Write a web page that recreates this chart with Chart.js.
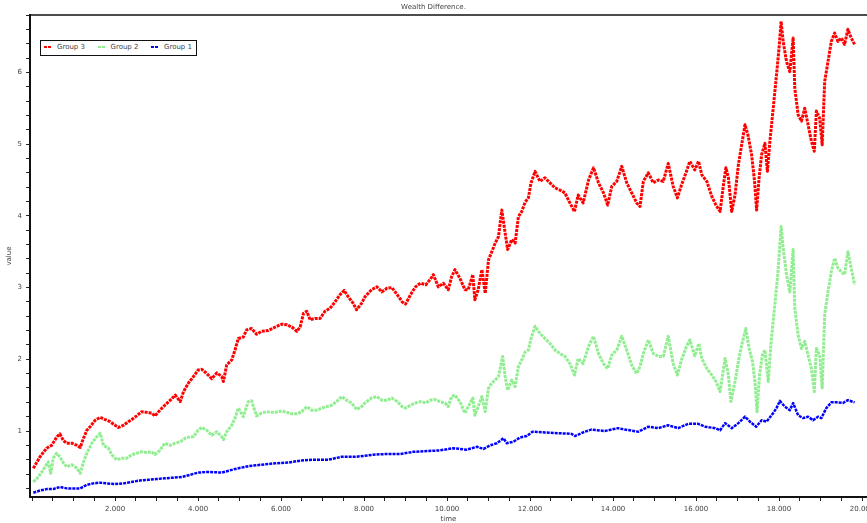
<!DOCTYPE html>
<html>
<head>
<meta charset="utf-8">
<script src="https://cdn.jsdelivr.net/npm/chart.js@4/dist/chart.umd.min.js"></script>
<style>
  html, body { margin: 0; padding: 0; background: #fff; }
  #wrap { position: relative; width: 867px; height: 523px; }
  #legend {
    position: absolute; left: 40px; top: 40px; width: 157px; height: 16px;
    box-sizing: border-box; border: 1.5px solid #111; background: #fff;
    font: 7px "DejaVu Sans", sans-serif; color: #444;
  }
  #legend .item { position: absolute; top: 0; height: 13px; line-height: 13px; white-space: nowrap; }
  #legend .swatch { display: inline-block; width: 7px; height: 2px; vertical-align: middle; margin-right: 6px; }
</style>
</head>
<body>
<div id="wrap">
  <canvas id="myChart" width="867" height="523"></canvas>
  <div id="legend"></div>
</div>
<script>
// values
const groups = ['Group 3', 'Group 2', 'Group 1'];
const colors = ['#ff0000', '#90ee90', '#0000ff'];

const tRed = [0.03,0.19,0.35,0.47,0.6,0.67,0.75,0.83,0.96,1.08,1.16,1.24,1.32,1.4,1.52,1.64,1.76,1.88,2.0,2.08,2.2,2.32,2.4,2.52,2.64,2.76,2.88,2.96,3.08,3.2,3.33,3.45,3.57,3.65,3.77,3.89,4.0,4.09,4.21,4.33,4.45,4.57,4.61,4.69,4.81,4.89,4.97,5.09,5.17,5.29,5.41,5.53,5.69,5.86,6.02,6.14,6.26,6.38,6.46,6.54,6.62,6.7,6.82,6.94,7.06,7.18,7.3,7.42,7.52,7.62,7.74,7.82,7.94,8.02,8.18,8.31,8.43,8.55,8.67,8.8,8.92,9.0,9.12,9.24,9.36,9.49,9.59,9.67,9.79,9.91,10.03,10.11,10.19,10.31,10.43,10.51,10.62,10.67,10.75,10.84,10.92,11.0,11.08,11.16,11.24,11.32,11.4,11.46,11.56,11.64,11.72,11.8,11.88,11.96,12.02,12.12,12.24,12.36,12.48,12.6,12.72,12.84,12.96,13.07,13.16,13.28,13.41,13.53,13.65,13.77,13.87,13.97,14.09,14.21,14.33,14.45,14.57,14.65,14.73,14.85,14.97,15.09,15.21,15.33,15.45,15.55,15.65,15.77,15.85,15.97,16.06,16.14,16.26,16.38,16.48,16.58,16.66,16.72,16.78,16.86,16.94,17.02,17.1,17.18,17.25,17.34,17.41,17.46,17.52,17.58,17.66,17.72,17.78,17.86,17.94,18.0,18.05,18.1,18.18,18.26,18.34,18.38,18.46,18.54,18.62,18.7,18.78,18.85,18.9,18.98,19.04,19.1,19.18,19.26,19.34,19.42,19.5,19.58,19.66,19.74,19.82];
const red = [0.48,0.64,0.76,0.80,0.92,0.96,0.87,0.83,0.83,0.80,0.77,0.90,1.01,1.06,1.15,1.19,1.16,1.13,1.08,1.05,1.08,1.13,1.16,1.21,1.27,1.26,1.25,1.21,1.29,1.36,1.43,1.50,1.41,1.55,1.67,1.76,1.85,1.86,1.80,1.73,1.81,1.76,1.69,1.92,1.99,2.13,2.29,2.31,2.41,2.43,2.35,2.39,2.40,2.45,2.49,2.48,2.45,2.39,2.45,2.64,2.67,2.55,2.57,2.57,2.67,2.71,2.80,2.90,2.96,2.87,2.78,2.69,2.78,2.87,2.97,3.01,2.94,2.99,3.00,2.90,2.80,2.77,2.90,3.01,3.06,3.04,3.11,3.18,3.01,3.06,2.97,3.15,3.25,3.13,2.97,2.97,3.18,2.83,2.97,3.25,2.92,3.39,3.50,3.62,3.71,4.08,3.76,3.53,3.67,3.62,3.99,4.06,4.19,4.25,4.45,4.62,4.48,4.53,4.46,4.39,4.36,4.32,4.18,4.06,4.29,4.18,4.50,4.67,4.46,4.32,4.15,4.41,4.48,4.69,4.46,4.32,4.18,4.13,4.48,4.60,4.46,4.50,4.48,4.73,4.41,4.25,4.43,4.62,4.76,4.64,4.76,4.57,4.48,4.27,4.15,4.06,4.43,4.67,4.53,4.06,4.29,4.71,4.99,5.27,5.13,4.85,4.48,4.08,4.53,4.85,5.01,4.62,5.04,5.50,5.97,6.34,6.71,6.43,6.15,6.01,6.48,5.78,5.41,5.32,5.50,5.27,5.04,4.90,5.46,5.36,4.99,5.87,6.15,6.43,6.55,6.43,6.48,6.39,6.60,6.48,6.39];

const tGreen = [0.03,0.15,0.27,0.39,0.45,0.51,0.59,0.67,0.76,0.84,0.96,1.08,1.16,1.24,1.32,1.44,1.56,1.64,1.72,1.84,1.92,2.04,2.16,2.28,2.4,2.52,2.64,2.76,2.88,2.96,3.08,3.2,3.33,3.45,3.57,3.69,3.81,3.89,4.0,4.09,4.21,4.33,4.45,4.57,4.61,4.69,4.81,4.89,4.97,5.09,5.21,5.29,5.41,5.53,5.65,5.77,5.86,6.02,6.14,6.26,6.38,6.5,6.62,6.74,6.86,6.98,7.1,7.22,7.34,7.46,7.58,7.7,7.82,7.94,8.02,8.18,8.31,8.43,8.55,8.67,8.8,8.92,9.0,9.12,9.24,9.36,9.49,9.59,9.71,9.83,9.95,10.03,10.11,10.19,10.31,10.43,10.51,10.62,10.67,10.75,10.84,10.92,11.0,11.08,11.16,11.24,11.34,11.4,11.46,11.56,11.64,11.72,11.8,11.88,11.96,12.02,12.12,12.24,12.36,12.48,12.6,12.72,12.84,12.96,13.07,13.16,13.28,13.41,13.53,13.65,13.77,13.87,13.97,14.09,14.21,14.33,14.45,14.57,14.65,14.73,14.85,14.97,15.09,15.21,15.33,15.45,15.55,15.65,15.77,15.85,15.97,16.07,16.14,16.26,16.38,16.48,16.58,16.7,16.78,16.84,16.94,17.02,17.1,17.2,17.28,17.36,17.42,17.47,17.53,17.6,17.66,17.74,17.81,17.89,17.97,18.05,18.1,18.18,18.26,18.34,18.38,18.46,18.54,18.62,18.7,18.78,18.85,18.9,18.98,19.04,19.1,19.18,19.26,19.34,19.42,19.5,19.58,19.66,19.74,19.82];
const green = [0.29,0.36,0.46,0.57,0.41,0.62,0.69,0.64,0.55,0.50,0.53,0.48,0.41,0.57,0.69,0.83,0.92,0.97,0.80,0.76,0.67,0.60,0.62,0.62,0.67,0.69,0.71,0.70,0.71,0.67,0.73,0.83,0.80,0.83,0.85,0.90,0.92,0.92,1.01,1.05,1.01,0.94,0.99,0.92,0.88,0.99,1.08,1.18,1.32,1.20,1.41,1.42,1.21,1.25,1.27,1.26,1.26,1.28,1.26,1.24,1.24,1.27,1.34,1.29,1.29,1.32,1.34,1.36,1.41,1.48,1.43,1.39,1.30,1.34,1.39,1.46,1.48,1.43,1.43,1.46,1.41,1.34,1.32,1.36,1.39,1.41,1.39,1.43,1.44,1.41,1.39,1.34,1.48,1.50,1.41,1.25,1.34,1.46,1.22,1.34,1.48,1.27,1.60,1.67,1.71,1.76,2.04,1.76,1.57,1.71,1.62,1.90,1.99,2.10,2.13,2.28,2.46,2.36,2.29,2.22,2.13,2.08,2.04,1.94,1.78,2.01,1.94,2.18,2.32,2.08,1.94,1.87,2.06,2.13,2.32,2.13,1.92,1.80,1.90,2.08,2.27,2.08,2.04,2.04,2.32,1.94,1.78,1.99,2.18,2.27,2.05,2.22,2.01,1.87,1.78,1.69,1.55,2.01,1.78,1.41,1.69,1.97,2.20,2.43,2.15,1.97,1.69,1.27,1.78,2.06,2.13,1.69,2.25,2.71,3.18,3.85,3.55,3.18,2.94,3.53,2.71,2.34,2.15,2.25,2.06,1.87,1.55,2.15,2.06,1.60,2.62,2.94,3.22,3.41,3.27,3.22,3.18,3.50,3.27,3.04];

const tBlue = [0.03,0.19,0.35,0.51,0.67,0.84,1.0,1.16,1.32,1.48,1.64,1.8,2.0,2.2,2.4,2.6,2.8,3.0,3.2,3.41,3.61,3.81,4.0,4.25,4.57,4.89,5.21,5.53,5.86,6.18,6.5,6.82,7.14,7.46,7.78,8.1,8.22,8.55,8.87,9.19,9.51,9.83,10.15,10.47,10.72,10.88,11.04,11.2,11.36,11.44,11.6,11.76,11.92,12.06,12.36,12.68,13.0,13.08,13.32,13.48,13.8,14.12,14.29,14.61,14.85,15.09,15.33,15.57,15.81,16.05,16.22,16.46,16.58,16.7,16.86,17.02,17.18,17.3,17.45,17.58,17.7,17.86,17.94,18.02,18.14,18.26,18.34,18.46,18.58,18.7,18.82,18.94,19.02,19.14,19.26,19.42,19.54,19.66,19.82];
const blue = [0.14,0.17,0.19,0.19,0.22,0.20,0.20,0.20,0.25,0.27,0.28,0.27,0.26,0.27,0.29,0.31,0.32,0.33,0.34,0.35,0.36,0.39,0.42,0.43,0.42,0.47,0.51,0.53,0.55,0.56,0.59,0.60,0.60,0.64,0.64,0.66,0.67,0.68,0.68,0.71,0.72,0.73,0.76,0.74,0.78,0.75,0.80,0.83,0.90,0.83,0.85,0.91,0.93,0.99,0.98,0.97,0.96,0.93,0.99,1.02,1.00,1.04,1.02,0.99,1.06,1.04,1.08,1.04,1.10,1.10,1.06,1.04,1.01,1.11,1.04,1.11,1.20,1.13,1.06,1.15,1.13,1.25,1.32,1.42,1.34,1.29,1.39,1.22,1.18,1.20,1.15,1.20,1.18,1.32,1.40,1.40,1.39,1.43,1.40];

const xs = [tRed, tGreen, tBlue];
const ys = [red, green, blue];

const xMin = -0.05, xMax = 20.12;
const yMin = 0.08, yMax = 6.8;

const tickFont = { family: 'DejaVu Sans', size: 7 };

// top frame line of the plot box
const frameTop = {
  id: 'frameTop',
  afterDraw(chart) {
    const c = chart.ctx, a = chart.chartArea;
    c.save();
    c.strokeStyle = '#111';
    c.lineWidth = 1.5;
    c.beginPath();
    c.moveTo(a.left, a.top);
    c.lineTo(a.right, a.top);
    c.stroke();
    c.restore();
  }
};

const ctx = document.getElementById('myChart').getContext('2d');
const myChart = new Chart(ctx, {
  type: 'line',
  data: {
    datasets: groups.map((g, i) => ({
      label: g,
      data: xs[i].map((t, k) => ({ x: t, y: ys[i][k] })),
      borderColor: colors[i],
      backgroundColor: colors[i],
      borderWidth: i === 2 ? 2.5 : 3,
      borderDash: [3, 1],
      borderJoinStyle: 'round',
      pointRadius: 0,
      tension: 0,
      fill: false
    }))
  },
  options: {
    responsive: false,
    animation: false,
    layout: { padding: 0 },
    plugins: {
      legend: { display: false },
      tooltip: { enabled: false },
      title: {
        display: true,
        text: 'Wealth Difference.',
        color: '#444',
        font: { family: 'DejaVu Sans', size: 7, weight: 'normal' },
        padding: { top: 3, bottom: 3.6 }
      }
    },
    scales: {
      x: {
        type: 'linear',
        min: xMin,
        max: xMax,
        border: { color: '#111', width: 2 },
        grid: { drawOnChartArea: false, tickLength: 4, tickColor: '#222' },
        ticks: {
          stepSize: 0.5,
          includeBounds: false,
          autoSkip: false,
          maxTicksLimit: 200,
          maxRotation: 0,
          padding: 4,
          color: '#444',
          font: tickFont,
          callback: (v) => (v > 0 && Math.abs(v / 2 - Math.round(v / 2)) < 1e-6) ? v.toFixed(3) : ''
        },
        title: { display: true, text: 'time', color: '#444', font: tickFont, padding: 0 },
        afterFit(scale) { scale.height = 26; scale.paddingLeft = 0; scale.paddingRight = 0; }
      },
      y: {
        min: yMin,
        max: yMax,
        border: { color: '#111', width: 2 },
        grid: { drawOnChartArea: false, tickLength: 4, tickColor: '#222' },
        ticks: {
          stepSize: 0.2,
          includeBounds: false,
          autoSkip: false,
          maxTicksLimit: 200,
          padding: 4,
          color: '#444',
          font: tickFont,
          callback: (v) => Math.abs(v - Math.round(v)) < 1e-6 ? String(Math.round(v)) : ''
        },
        title: { display: true, text: 'value', color: '#444', font: tickFont, padding: { top: 5, bottom: 0 } },
        afterFit(scale) { scale.width = 30; scale.paddingTop = 0; scale.paddingBottom = 0; }
      }
    }
  },
  plugins: [frameTop]
});

// legend box drawn from the dataset list
const legend = document.getElementById('legend');
myChart.data.datasets.forEach((ds, i) => {
  const item = document.createElement('span');
  item.className = 'item';
  item.style.left = (3 + i * 53.5) + 'px';
  const sw = document.createElement('span');
  sw.className = 'swatch';
  sw.style.background = 'repeating-linear-gradient(90deg,' + ds.borderColor + ' 0 3px, transparent 3px 4px)';
  item.appendChild(sw);
  item.appendChild(document.createTextNode(ds.label));
  legend.appendChild(item);
});
</script>
</body>
</html>
